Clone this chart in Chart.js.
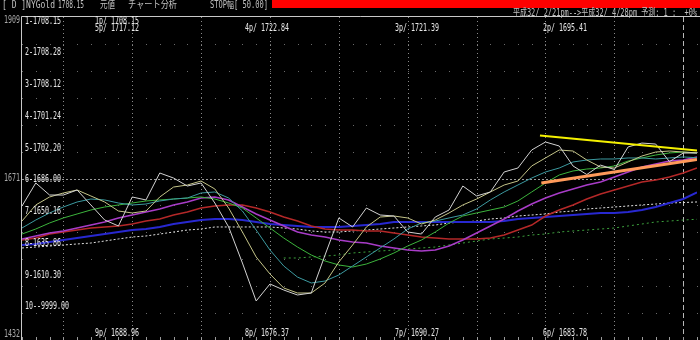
<!DOCTYPE html>
<html><head><meta charset="utf-8">
<script src="https://cdn.jsdelivr.net/npm/chart.js@4/dist/chart.umd.min.js"></script>
<style>html,body{margin:0;padding:0;background:#000;overflow:hidden}canvas{display:block}</style>
</head><body>
<canvas id="c" width="700" height="340"></canvas>
<script>
// ---- data ----
const periods = [0,1,2,3,4,5,6,7,8,9,10,11,12,13,14,15,16,17,18,19,20,21,22,23,24,25,26,27,28,29,30,31,32,33,34,35,36,37,38,39,40,41,42,43,44,45,46,47,48,49];
const currentIndex = 48;

const price = [1629.9,1663.9,1646.1,1646.1,1653.5,1631.4,1609.2,1600.4,1643.2,1638.8,1678.6,1671.2,1659.4,1663.9,1634.3,1598.9,1545.7,1489.6,1514.7,1505.8,1498.5,1501.4,1557.5,1612.2,1598.9,1626.9,1616.6,1615.1,1591.5,1588.5,1613.6,1624.0,1659.4,1644.7,1650.6,1680.1,1686.0,1712.6,1724.4,1718.5,1688.96,1676.37,1690.27,1683.78,1717.12,1722.84,1721.39,1695.41,1708.15,1708.15];
const maKhaki = [1607.7,1631.4,1643.2,1649.1,1653.5,1644.7,1635.8,1622.5,1619.6,1622.5,1643.2,1657.9,1660.9,1666.8,1655.0,1626.9,1591.5,1554.6,1529.5,1508.8,1501.4,1501.4,1516.2,1547.2,1572.3,1598.9,1613.6,1615.1,1612.2,1603.3,1609.2,1619.6,1631.4,1640.2,1650.6,1660.9,1666.8,1689.0,1700.8,1712.6,1711.1,1697.8,1687.5,1686.0,1694.9,1703.7,1709.6,1711.1,1709.6,1708.28];
const maGreen = [1588.5,1595.9,1604.8,1612.2,1618.1,1624.0,1628.4,1631.4,1634.3,1637.3,1638.8,1640.2,1641.7,1643.2,1640.2,1634.3,1626.9,1612.2,1597.4,1582.6,1569.3,1557.5,1548.7,1542.8,1539.8,1544.2,1551.6,1560.5,1570.8,1579.7,1591.5,1604.8,1615.1,1619.6,1624.0,1628.4,1637.3,1650.6,1663.9,1675.7,1681.6,1684.5,1686.0,1689.0,1696.3,1700.8,1705.2,1708.2,1709.6,1708.12];
const maTeal = [1597.4,1609.2,1619.6,1628.4,1635.8,1640.2,1638.8,1634.3,1631.4,1632.8,1637.3,1640.2,1641.7,1649.1,1650.6,1641.7,1622.5,1594.4,1564.9,1541.3,1524.9,1516.2,1519.1,1528.0,1541.3,1554.6,1567.9,1581.2,1595.9,1604.8,1607.7,1612.2,1616.6,1625.5,1638.8,1650.6,1660.9,1671.2,1680.1,1686.0,1694.9,1697.8,1699.3,1699.3,1700.8,1700.8,1699.3,1700.8,1702.3,1701.24];
const maMagenta = [1581.2,1585.6,1590.0,1593.0,1597.4,1601.8,1606.3,1612.2,1616.6,1621.0,1625.5,1631.4,1635.8,1641.7,1643.2,1638.8,1628.4,1618.1,1609.2,1600.4,1591.5,1587.1,1584.1,1579.7,1576.7,1575.2,1570.8,1567.9,1564.9,1563.4,1564.9,1570.8,1579.7,1590.0,1600.4,1610.7,1622.5,1632.8,1641.7,1649.1,1655.0,1660.9,1665.3,1672.7,1680.1,1687.5,1691.9,1696.3,1697.8,1702.20];
const maRed = [1579.7,1582.6,1588.5,1591.5,1594.4,1597.4,1598.9,1600.4,1603.3,1607.7,1610.7,1616.6,1621.0,1626.9,1629.9,1631.4,1631.4,1626.9,1621.0,1613.6,1607.7,1600.4,1595.9,1594.4,1594.4,1593.0,1593.0,1590.0,1587.1,1584.1,1582.6,1581.2,1581.2,1581.2,1582.6,1587.1,1594.4,1601.8,1615.1,1624.0,1631.4,1640.2,1647.6,1653.5,1659.4,1665.3,1668.3,1672.7,1678.6,1686.00];
const maBlue = [1572.3,1573.8,1576.7,1579.7,1582.6,1585.6,1588.5,1591.5,1594.4,1595.9,1598.9,1603.3,1606.3,1609.2,1610.7,1610.7,1609.2,1606.3,1603.3,1601.8,1600.4,1598.9,1598.9,1598.9,1600.4,1601.8,1603.3,1606.3,1606.3,1606.3,1606.3,1606.3,1606.3,1606.3,1606.3,1607.7,1610.7,1612.2,1613.6,1615.1,1616.6,1618.1,1619.6,1619.6,1621.0,1624.0,1628.4,1634.3,1640.2,1650.16];
const maWhiteDot = [1567.9,1569.3,1570.8,1572.3,1573.8,1575.2,1578.2,1581.2,1584.1,1585.6,1588.5,1591.5,1594.4,1595.9,1598.9,1598.9,1598.9,1598.9,1598.9,1597.4,1595.9,1593.0,1591.5,1591.5,1593.0,1594.4,1595.9,1597.4,1598.9,1600.4,1601.8,1604.8,1606.3,1607.7,1610.7,1612.2,1615.1,1616.6,1618.1,1621.0,1622.5,1625.5,1626.9,1628.4,1629.9,1631.4,1632.8,1634.3,1635.0,1635.86];
const maGreenDot = [null,null,null,null,null,null,null,null,null,null,null,null,null,null,null,null,null,null,null,1553.1,1553.1,1554.6,1556.0,1557.5,1560.5,1562.0,1563.4,1564.9,1566.4,1567.9,1569.3,1572.3,1575.2,1578.2,1581.2,1582.6,1584.1,1587.1,1588.5,1591.5,1593.0,1594.4,1595.9,1597.4,1600.4,1603.3,1606.3,1607.7,1609.2,1610.30];

const trendHighX = [37.6, 49];
const trendHighY = [1734.0, 1711.9];
const trendLowX = [37.7, 49];
const trendLowY = [1663.9, 1698.6];

const yMin = 1432, yMax = 1909;
const yGridValues = [1432,1471.75,1511.5,1551.25,1591,1630.75,1670.5,1710.25,1750,1789.75,1829.5,1869.25,1909];
const yAxisValues = [1909, 1670.5, 1432];
const yAxisLabels = ['1909', '1671', '1432'];
const xGridValues = [3,8,13,18,23,28,33,38,43];

const headerTexts = ['[ D ]NYGold', '1708.15', '元値', 'チャート分析', 'STOP幅[ 50.00]'];
const dateText = '平成32/ 2/21pm-->平成32/ 4/28pm 予測: 1 :  +0%';

// series in legend-row order (1..9)
const rowSeries = [price, maKhaki, maGreen, maTeal, maMagenta, maRed, maBlue, maWhiteDot, maGreenDot];
const lastLabel = '10--9999.00';

// ---- helpers ----
const FONT = '10px "DejaVu Sans Mono", "Noto Sans CJK JP", monospace';
function cellWidth(str){ let w=0; for (const ch of str) w += ch.charCodeAt(0) > 0xff ? 8 : 4; return w; }
function txt(ctx, str, x, y, color, align, width){
  ctx.font = FONT; ctx.fillStyle = color; ctx.textAlign = align || 'left'; ctx.textBaseline = 'middle';
  ctx.fillText(str, x, y, width || cellWidth(str));
}

const decor = {
  id: 'decor',
  beforeDraw(chart){
    const {ctx, chartArea:a, scales:{x, y}} = chart;
    ctx.save();
    ctx.fillStyle = '#000'; ctx.fillRect(0,0,chart.width,chart.height);
    // sparse dot rows
    ctx.fillStyle = '#6a6a6a';
    yGridValues.forEach(v => {
      const py = Math.round(y.getPixelForValue(v));
      if (v === 1670.5 || v === yMin || v === yMax) return;
      periods.forEach(p => { ctx.fillRect(Math.round(x.getPixelForValue(p)), py, 1, 1); });
    });
    // middle row dense
    ctx.strokeStyle = '#9a9a9a'; ctx.lineWidth = 1; ctx.setLineDash([2,2]);
    const my = Math.round(y.getPixelForValue(1670.5)) + 0.5;
    ctx.beginPath(); ctx.moveTo(a.left, my); ctx.lineTo(a.right, my); ctx.stroke();
    // vertical dotted
    ctx.strokeStyle = '#8a8a8a'; ctx.setLineDash([1,3]);
    xGridValues.forEach(v => {
      const px = Math.round(x.getPixelForValue(v)) + 0.5;
      ctx.beginPath(); ctx.moveTo(px, a.top); ctx.lineTo(px, a.bottom); ctx.stroke();
    });
    // current index dashed
    ctx.strokeStyle = '#b8b8b8'; ctx.setLineDash([5,3]);
    const cx = Math.round(x.getPixelForValue(currentIndex)) + 0.5;
    ctx.beginPath(); ctx.moveTo(cx, a.top); ctx.lineTo(cx, a.bottom); ctx.stroke();
    ctx.setLineDash([]);
    // bottom ticks
    ctx.fillStyle = '#9a9a9a';
    periods.forEach(p => { ctx.fillRect(Math.round(x.getPixelForValue(p)), a.bottom - 3, 1, 3); });
    // frame
    ctx.strokeStyle = '#c8c8c8';
    ctx.beginPath(); ctx.moveTo(a.left - 0.5, a.top - 0.5); ctx.lineTo(chart.width, a.top - 0.5);
    ctx.moveTo(a.left - 0.5, a.top - 0.5); ctx.lineTo(a.left - 0.5, a.bottom); ctx.stroke();
    // header red bar
    ctx.fillStyle = '#ff0000'; ctx.fillRect(272, 0, chart.width - 272, 8);
    ctx.restore();
  },
  afterDraw(chart){
    const {ctx, chartArea:a, scales:{x, y}} = chart;
    ctx.save();
    // header
    const hx = [2, 58, 100, 128, 210];
    const hw = [53, 26, 15, 49, 58];
    headerTexts.forEach((t,i) => txt(ctx, t, hx[i], 5, '#c0c0c0', 'left', hw[i]));
    txt(ctx, dateText, chart.width - 3, 13, '#c0c0c0', 'right');
    // y axis labels
    yAxisValues.forEach((v,i) => {
      let py = y.getPixelForValue(v);
      if (i === 0) py += 3; else if (i === 2) py -= 6;
      txt(ctx, yAxisLabels[i], a.left - 2, py, '#a8a8a8', 'right');
    });
    // row labels
    const last = periods.length - 1;
    for (let k = 0; k < 10; k++){
      const s = k < rowSeries.length ? (k+1) + '-' + rowSeries[k][last].toFixed(2) : lastLabel;
      txt(ctx, s, a.left + 3, a.top + 4 + k * 31.75, '#e8e8e8');
    }
    // recent prices (1p..9p)
    const pos = [[95,21],[543,28],[395,28],[245,28],[95,28],[543,333],[395,333],[245,333],[95,333]];
    for (let n = 1; n <= 9; n++){
      const v = price[currentIndex - n + 1];
      txt(ctx, n + 'p/ ' + v.toFixed(2), pos[n-1][0], pos[n-1][1], '#e8e8e8');
    }
    ctx.restore();
  }
};

const line = (data, color, width, dash) => ({ data, borderColor: color, borderWidth: width || 1, borderDash: dash || [], pointRadius: 0, tension: 0, fill: false, spanGaps: false });
const trend = (xs, ys, color, width) => ({ data: xs.map((v,i)=>({x:v, y:ys[i]})), borderColor: color, borderWidth: width, pointRadius: 0, tension: 0, fill: false });

new Chart(document.getElementById('c'), {
  type: 'line',
  data: {
    labels: periods,
    datasets: [
      trend(trendHighX, trendHighY, '#f4f000', 2),
      trend(trendLowX, trendLowY, '#ff9a5a', 3),
      line(price, '#d2d2d2', 1),
      line(maKhaki, '#c4c488', 1),
      line(maTeal, '#3c9aa0', 1),
      line(maGreen, '#3cb43c', 1),
      line(maMagenta, '#a83cc8', 1.5),
      line(maRed, '#b42828', 1.5),
      line(maBlue, '#2828d0', 2),
      line(maWhiteDot, '#e0e0e0', 1, [2,2]),
      line(maGreenDot, '#3ca03c', 1, [2,3])
    ]
  },
  options: {
    responsive: false, animation: false, devicePixelRatio: 1,
    layout: { padding: { left: 22, top: 17, right: 3, bottom: 0 } },
    plugins: { legend: { display: false }, tooltip: { enabled: false } },
    scales: {
      x: { type: 'linear', min: 0, max: 49, display: false },
      y: { type: 'linear', min: yMin, max: yMax, display: false }
    }
  },
  plugins: [decor]
});
</script>
</body></html>
